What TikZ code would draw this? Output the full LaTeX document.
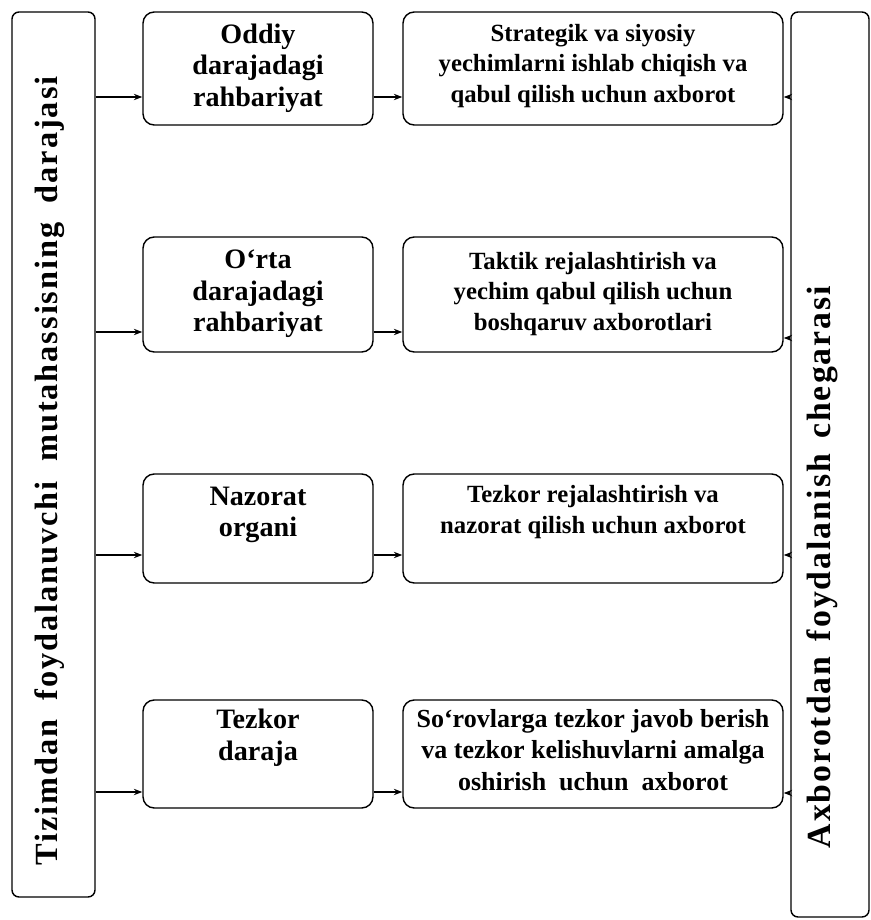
\documentclass[tikz,border=0pt]{standalone}
\usepackage{fontspec}
\setmainfont{Liberation Serif}
\newfontfamily\spacedfont[LetterSpace=6]{Liberation Serif}
\usetikzlibrary{arrows.meta}
\begin{document}
\begin{tikzpicture}[x=0.025cm,y=-0.025cm,
  tall/.style={draw,line width=1pt,rounded corners=5pt,inner sep=0pt},
  box/.style={draw,line width=1pt,rounded corners=8pt,inner sep=0pt},
  lvl/.style={align=center,font=\bfseries\fontsize{20}{22.5}\selectfont,inner sep=0pt},
  info/.style={align=center,font=\bfseries\fontsize{17.6}{21.5}\selectfont,inner sep=0pt},
  vert/.style={rotate=90,font=\spacedfont\bfseries\fontsize{23}{26}\selectfont,inner sep=0pt},
  arr/.style={line width=0.9pt,-{Stealth[length=6pt,width=4.5pt]}}]
\useasboundingbox (0,0) rectangle (870,920);
% tall side boxes
\node[tall,minimum width=83*0.025cm,minimum height=885*0.025cm] (L) at (53.5,454.5) {};
\node[tall,minimum width=78*0.025cm,minimum height=905*0.025cm] (R) at (830,464.5) {};
\node[vert] (Ltext) at (50,471) {Tizimdan\hspace{0.6em}foydalanuvchi\hspace{0.6em}mutahassisning\hspace{0.6em}darajasi};
\node[vert,font=\spacedfont\bfseries\fontsize{24}{27}\selectfont] (Rtext) at (822,567) {Axborotdan\hspace{0.45em}foydalanish\hspace{0.45em}chegarasi};
% column 1 boxes
\node[box,minimum width=230*0.025cm,minimum height=113*0.025cm] (a1) at (258,68.5) {};
\node[box,minimum width=230*0.025cm,minimum height=115*0.025cm] (a2) at (258,294.5) {};
\node[box,minimum width=230*0.025cm,minimum height=109*0.025cm] (a3) at (258,528.5) {};
\node[box,minimum width=230*0.025cm,minimum height=108*0.025cm] (a4) at (258,754) {};
% column 2 boxes
\node[box,minimum width=380*0.025cm,minimum height=113*0.025cm] (b1) at (593,68.5) {};
\node[box,minimum width=380*0.025cm,minimum height=115*0.025cm] (b2) at (593,294.5) {};
\node[box,minimum width=380*0.025cm,minimum height=109*0.025cm] (b3) at (593,528.5) {};
\node[box,minimum width=380*0.025cm,minimum height=108*0.025cm] (b4) at (593,754) {};
% texts
\node[lvl] (ta1) at (258,68) {Oddiy\\darajadagi\\rahbariyat};
\node[lvl] (ta2) at (258,294) {O‘rta\\darajadagi\\rahbariyat};
\node[lvl] (ta3) at (258,515) {Nazorat\\organi};
\node[lvl] (ta4) at (258,738) {Tezkor\\daraja};
\node[info] (tb1) at (593,66) {Strategik va siyosiy\\yechimlarni ishlab chiqish va\\qabul qilish uchun axborot};
\node[info] (tb2) at (593,294) {Taktik rejalashtirish va\\yechim qabul qilish uchun\\boshqaruv axborotlari};
\node[info] (tb3) at (593,512) {Tezkor rejalashtirish va\\nazorat qilish uchun axborot};
\node[info,font=\bfseries\fontsize{18.5}{22.5}\selectfont] (tb4) at (593,750) {So‘rovlarga tezkor javob berish\\va tezkor kelishuvlarni amalga\\oshirish\ \ uchun\ \ axborot};
% arrows from left box
\draw[arr] (L.east |- 0,97) -- (a1.west |- 0,97);
\draw[arr] (L.east |- 0,332) -- (a2.west |- 0,332);
\draw[arr] (L.east |- 0,555) -- (a3.west |- 0,555);
\draw[arr] (L.east |- 0,792) -- (a4.west |- 0,792);
% arrows col1 -> col2
\draw[arr] (a1.east |- 0,97) -- (b1.west |- 0,97);
\draw[arr] (a2.east |- 0,332) -- (b2.west |- 0,332);
\draw[arr] (a3.east |- 0,555) -- (b3.west |- 0,555);
\draw[arr] (a4.east |- 0,792) -- (b4.west |- 0,792);
% arrows from right box
\draw[arr] (R.west |- 0,97) -- (b1.east |- 0,97);
\draw[arr] (R.west |- 0,338) -- (b2.east |- 0,338);
\draw[arr] (R.west |- 0,555) -- (b3.east |- 0,555);
\draw[arr] (R.west |- 0,793) -- (b4.east |- 0,793);
\end{tikzpicture}
\end{document}
